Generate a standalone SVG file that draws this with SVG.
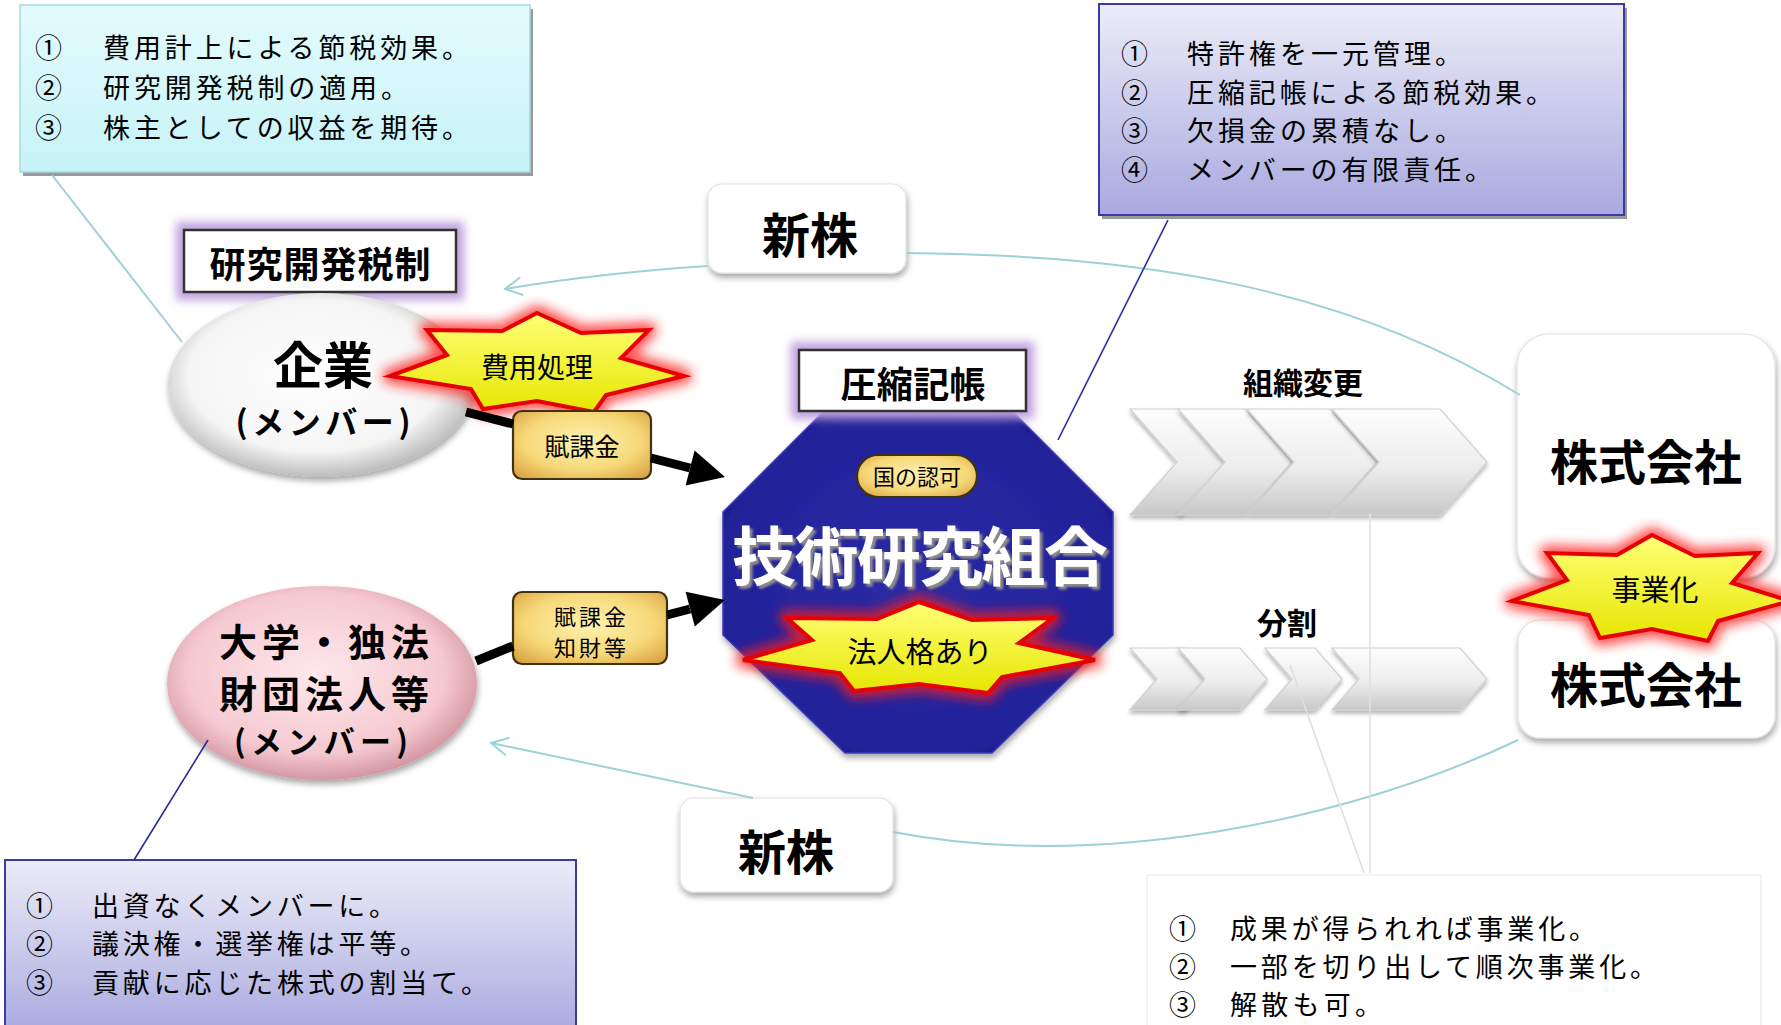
<svg xmlns="http://www.w3.org/2000/svg" width="1781" height="1025" viewBox="0 0 1781 1025">
<defs>
<style>
.t{font-family:'Noto Sans CJK JP','Noto Sans CJK SC',sans-serif;fill:#000}
.list{font-size:27px}
.num{font-size:27px}
.b{font-weight:700}
.m{text-anchor:middle}
.teal{fill:none;stroke:#9dd1d8;stroke-width:2}
.blue{fill:none;stroke:#2a2a9e;stroke-width:1.6}
.gray{fill:none;stroke:#e0e0e0;stroke-width:1.6}
.blk{fill:none;stroke:#000;stroke-width:9}
.star{fill:url(#gStar);stroke:#e60000;stroke-width:4;stroke-linejoin:miter}
.glow{fill:#ff1a1a;stroke:#ff1a1a;stroke-width:16;stroke-linejoin:round;opacity:0.75;filter:url(#fBlur6)}
.gold{fill:url(#gGold);stroke:#3f3210;stroke-width:2.2}
.chev{fill:url(#gChev);stroke:#d0d0d0;stroke-width:1.2;filter:url(#fShadowS)}
.wbox{fill:#fff;stroke:#e2e2e2;stroke-width:1.2;filter:url(#fShadow)}
.pglow{fill:#bfa2de;filter:url(#fBlur5)}
.lab{fill:#fff;stroke:#333;stroke-width:2.5}
.white{fill:#fff}
</style>
<linearGradient id="gCyan" x1="0" y1="0" x2="0" y2="1"><stop offset="0" stop-color="#e4fbfd"/><stop offset="1" stop-color="#c6f3f8"/></linearGradient>
<linearGradient id="gLav" x1="0" y1="0" x2="0" y2="1"><stop offset="0" stop-color="#ececf8"/><stop offset="1" stop-color="#a9a9e0"/></linearGradient>
<linearGradient id="gStar" x1="0" y1="0" x2="0" y2="1"><stop offset="0" stop-color="#ffff78"/><stop offset="1" stop-color="#e6e600"/></linearGradient>
<radialGradient id="gGold" cx="0.5" cy="0.45" r="0.7"><stop offset="0" stop-color="#fff3b0"/><stop offset="0.6" stop-color="#f6d878"/><stop offset="1" stop-color="#d9a040"/></radialGradient>
<radialGradient id="gWhiteEll" cx="0.48" cy="0.45" r="0.55"><stop offset="0" stop-color="#ffffff"/><stop offset="0.75" stop-color="#f5f5f5"/><stop offset="1" stop-color="#bcbcbc"/></radialGradient>
<radialGradient id="gPinkEll" cx="0.48" cy="0.45" r="0.55"><stop offset="0" stop-color="#fde8ec"/><stop offset="0.75" stop-color="#f6c9d1"/><stop offset="1" stop-color="#d497a3"/></radialGradient>
<radialGradient id="gOct" cx="0.5" cy="0.5" r="0.62"><stop offset="0" stop-color="#2b2ba6"/><stop offset="0.8" stop-color="#22229a"/><stop offset="1" stop-color="#16167e"/></radialGradient>
<linearGradient id="gChev" x1="0" y1="0" x2="0" y2="1"><stop offset="0" stop-color="#fdfdfd"/><stop offset="0.55" stop-color="#ededed"/><stop offset="1" stop-color="#c8c8c8"/></linearGradient>
<filter id="fShadow" x="-20%" y="-20%" width="140%" height="150%"><feDropShadow dx="1" dy="4" stdDeviation="3" flood-color="#000" flood-opacity="0.35"/></filter>
<filter id="fShadowS" x="-10%" y="-20%" width="120%" height="150%"><feDropShadow dx="0" dy="3" stdDeviation="2" flood-color="#000" flood-opacity="0.3"/></filter>
<filter id="fTextShadow" x="-10%" y="-20%" width="120%" height="150%"><feDropShadow dx="3" dy="3" stdDeviation="0.8" flood-color="#8c8c8c" flood-opacity="1"/></filter>
<filter id="fBlur6" x="-30%" y="-60%" width="160%" height="220%"><feGaussianBlur stdDeviation="6"/></filter>
<filter id="fBlur5" x="-20%" y="-40%" width="140%" height="180%"><feGaussianBlur stdDeviation="5"/></filter>
<marker id="mTeal" viewBox="0 0 20 20" markerWidth="20" markerHeight="20" refX="19" refY="10" orient="auto" markerUnits="userSpaceOnUse"><path d="M2,1 L19,10 L2,19" fill="none" stroke="#9dd1d8" stroke-width="2"/></marker>
</defs>
<rect width="1781" height="1025" fill="#fff"/>

<g id="note-company">
<rect x="23" y="9" width="510" height="167" fill="#9a9a9a"/>
<rect x="20" y="5" width="510" height="167" fill="url(#gCyan)" stroke="#a6d9e0" stroke-width="1.5"/>
<text class="t num" x="35" y="58">①</text><text class="t list" x="103" y="58" textLength="366">費用計上による節税効果。</text>
<text class="t num" x="35" y="98">②</text><text class="t list" x="103" y="98" textLength="305">研究開発税制の適用。</text>
<text class="t num" x="35" y="138">③</text><text class="t list" x="103" y="138" textLength="366">株主としての収益を期待。</text>
</g>

<g id="note-union">
<rect x="1102" y="8" width="525" height="211" fill="#9a9a9a"/>
<rect x="1099" y="4" width="525" height="211" fill="url(#gLav)" stroke="#3a3aa0" stroke-width="2"/>
<text class="t num" x="1121" y="64">①</text><text class="t list" x="1187" y="64" textLength="275">特許権を一元管理。</text>
<text class="t num" x="1121" y="103">②</text><text class="t list" x="1187" y="103" textLength="366">圧縮記帳による節税効果。</text>
<text class="t num" x="1121" y="141">③</text><text class="t list" x="1187" y="141" textLength="275">欠損金の累積なし。</text>
<text class="t num" x="1121" y="180">④</text><text class="t list" x="1187" y="180" textLength="305">メンバーの有限責任。</text>
</g>

<g id="note-university">
<rect x="5" y="860" width="571" height="175" fill="url(#gLav)" stroke="#3a3aa0" stroke-width="2"/>
<text class="t num" x="26" y="916">①</text><text class="t list" x="92" y="916" textLength="304">出資なくメンバーに。</text>
<text class="t num" x="26" y="954">②</text><text class="t list" x="92" y="954" textLength="335">議決権・選挙権は平等。</text>
<text class="t num" x="26" y="993">③</text><text class="t list" x="92" y="993" textLength="396">貢献に応じた株式の割当て。</text>
</g>

<g id="note-business">
<rect x="1147" y="875" width="614" height="170" fill="#fff" stroke="#efefef" stroke-width="1.5"/>
<text class="t num" x="1169" y="939">①</text><text class="t list" x="1230" y="939" textLength="366">成果が得られれば事業化。</text>
<text class="t num" x="1169" y="977">②</text><text class="t list" x="1230" y="977" textLength="427">一部を切り出して順次事業化。</text>
<text class="t num" x="1169" y="1015">③</text><text class="t list" x="1230" y="1015" textLength="152">解散も可。</text>
</g>

<g id="shares-top">
<rect x="708" y="184" width="198" height="89" rx="14" class="wbox"/>
<text class="t b m" x="810" y="253" font-size="48">新株</text>
</g>

<g id="shares-bottom">
<rect x="680" y="798" width="213" height="94" rx="14" class="wbox"/>
<text class="t b m" x="786" y="870" font-size="48">新株</text>
</g>

<g id="tax-rd">
<rect x="176" y="222" width="288" height="78" class="pglow"/>
<rect x="184" y="230" width="272" height="62" class="lab"/>
<text class="t b m" x="320" y="278" font-size="36" textLength="221">研究開発税制</text>
</g>

<g id="company">
<ellipse cx="321" cy="385" rx="153" ry="92" fill="url(#gWhiteEll)" filter="url(#fShadow)"/>
<text class="t b m" x="323" y="384" font-size="50">企業</text>
<text class="t b m" x="323" y="434" font-size="32" textLength="175">(メンバー)</text>
</g>

<g id="university">
<ellipse cx="322" cy="683" rx="155" ry="97" fill="url(#gPinkEll)" filter="url(#fShadow)"/>
<text class="t b m" x="324" y="656" font-size="38" textLength="210">大学・独法</text>
<text class="t b m" x="324" y="708" font-size="38" textLength="210">財団法人等</text>
<text class="t b m" x="321" y="753" font-size="31" textLength="174">(メンバー)</text>
</g>

<g id="expense">
<polygon class="glow" points="537,313 581,333 649,330 621,358 684,376 606,395 594,412 537,401 483,409 471,389 390,376 447,355 427,330 502,331"/>
<polygon class="star" points="537,313 581,333 649,330 621,358 684,376 606,395 594,412 537,401 483,409 471,389 390,376 447,355 427,330 502,331"/>
<text class="t m" x="537" y="378" font-size="28">費用処理</text>
</g>

<g id="levy1">
<rect x="513" y="411" width="138" height="68" rx="9" class="gold"/>
<text class="t m" x="582" y="456" font-size="25">賦課金</text>
</g>

<g id="levy2">
<rect x="513" y="592" width="154" height="72" rx="9" class="gold"/>
<text class="t m" x="590" y="625" font-size="22" textLength="72">賦課金</text>
<text class="t m" x="590" y="656" font-size="22" textLength="72">知財等</text>
</g>

<g id="union">
<polygon points="824,411 1012,411 1113,512 1113,635 992,753 845,753 723,635 723,512" fill="url(#gOct)" stroke="#3b3bbb" stroke-width="1.5" filter="url(#fShadow)"/>
<rect x="791" y="342" width="243" height="77" class="pglow"/>
<rect x="799" y="350" width="227" height="61" class="lab"/>
<text class="t b m" x="913" y="398" font-size="36" textLength="145">圧縮記帳</text>
<rect x="857" y="455" width="120" height="42" rx="21" class="gold"/>
<text class="t m" x="917" y="485" font-size="22">国の認可</text>
<text class="t b m white" x="920" y="580" font-size="64" textLength="376" style="fill:#ffffff" filter="url(#fTextShadow)">技術研究組合</text>
<polygon class="glow" points="919,602 972,620 1053,618 1019,643 1095,660 1002,677 988,693 919,684 854,691 840,673 743,660 812,640 787,618 877,619"/>
<polygon class="star" points="919,602 972,620 1053,618 1019,643 1095,660 1002,677 988,693 919,684 854,691 840,673 743,660 812,640 787,618 877,619"/>
<text class="t m" x="920" y="663" font-size="29">法人格あり</text>
</g>

<g id="reorg">
<text class="t b m" x="1303" y="394" font-size="30">組織変更</text>
<polygon class="chev" points="1130,409 1180,409 1227,462 1180,515 1130,515 1177,462"/>
<polygon class="chev" points="1178,409 1245,409 1292,462 1245,515 1178,515 1225,462"/>
<polygon class="chev" points="1247,409 1330,409 1377,462 1330,515 1247,515 1294,462"/>
<polygon class="chev" points="1332,409 1440,409 1487,462 1440,515 1332,515 1379,462"/>
</g>

<g id="split">
<text class="t b m" x="1287" y="634" font-size="30">分割</text>
<polygon class="chev" points="1130,648 1185,648 1212,679 1185,710 1130,710 1157,679"/>
<polygon class="chev" points="1178,648 1240,648 1267,679 1240,710 1178,710 1205,679"/>
<polygon class="chev" points="1265,648 1315,648 1342,679 1315,710 1265,710 1292,679"/>
<polygon class="chev" points="1332,648 1460,648 1487,679 1460,710 1332,710 1359,679"/>
</g>

<g id="corp-top">
<rect x="1517" y="334" width="258" height="244" rx="32" class="wbox"/>
<text class="t b m" x="1646" y="480" font-size="48">株式会社</text>
</g>

<g id="corp-bottom">
<rect x="1518" y="620" width="257" height="118" rx="22" class="wbox"/>
<text class="t b m" x="1646" y="703" font-size="48">株式会社</text>
</g>

<g id="commercialize">
<polygon class="glow" points="1652,535 1695,556 1758,553 1732,583 1790,601 1718,621 1708,641 1652,629 1600,638 1589,615 1512,601 1567,580 1547,553 1617,555"/>
<polygon class="star" points="1652,535 1695,556 1758,553 1732,583 1790,601 1718,621 1708,641 1652,629 1600,638 1589,615 1512,601 1567,580 1547,553 1617,555"/>
<text class="t m" x="1655" y="601" font-size="29">事業化</text>
</g>

<g id="connectors">
<line class="blk" x1="466" y1="412" x2="513" y2="424"/>
<line class="blk" x1="651" y1="458" x2="690" y2="468"/>
<polygon points="725,477 685.6,485.4 694.6,450.6" fill="#000"/>
<line class="blk" x1="476" y1="661" x2="513" y2="646"/>
<line class="blk" x1="667" y1="615" x2="690" y2="609"/>
<polygon points="725,600 694.8,626.5 685.6,591.7" fill="#000"/>
<path class="teal" d="M1520,395 C1350,290 1150,255 906,253"/>
<path class="teal" d="M708,266 Q600,273 505,289" marker-end="url(#mTeal)"/>
<path class="teal" d="M1518,740 C1350,820 1100,872 893,832"/>
<path class="teal" d="M753,798 L491,743" marker-end="url(#mTeal)"/>
<line class="teal" x1="52" y1="175" x2="182" y2="342"/>
<line class="blue" x1="1168" y1="220" x2="1058" y2="440"/>
<line class="blue" x1="208" y1="740" x2="134" y2="860"/>
<line class="gray" x1="1370" y1="513" x2="1370" y2="873"/>
<line class="gray" x1="1290" y1="665" x2="1364" y2="873"/>
</g>
</svg>
